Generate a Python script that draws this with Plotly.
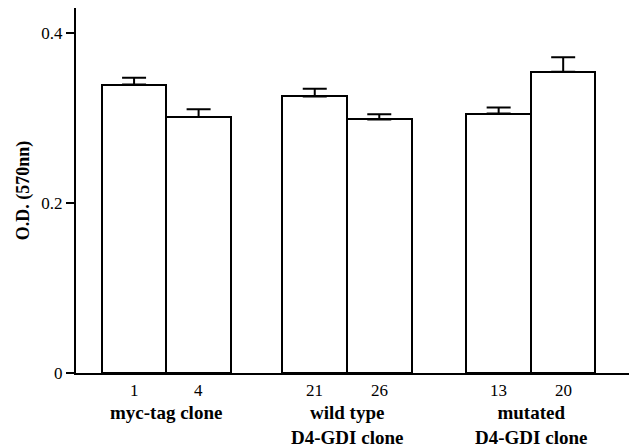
import plotly.graph_objects as go

clones = ["1", "4", "21", "26", "13", "20"]
groups = ["myc-tag clone", "wild type<br>D4-GDI clone", "mutated<br>D4-GDI clone"]
od_values = [0.339, 0.301, 0.325, 0.298, 0.305, 0.354]
od_errors = [0.008, 0.009, 0.009, 0.006, 0.007, 0.017]

group_centers = [1.4, 4.2, 7.05]
xpos = []
for g in group_centers:
    xpos += [g - 0.5, g + 0.5]

serif = "Liberation Serif, Times New Roman, serif"

fig = go.Figure()
fig.add_trace(go.Bar(
    x=xpos, y=od_values, width=1.0,
    marker=dict(color="white", line=dict(color="black", width=2)),
    error_y=dict(type="data", array=od_errors, arrayminus=[0]*6, symmetric=False,
                 color="black", thickness=2, width=12),
    showlegend=False,
))

for x, lab in zip(xpos, clones):
    fig.add_annotation(x=x, y=-0.047, xref="x", yref="paper", text=lab,
                       showarrow=False, yanchor="middle",
                       font=dict(family=serif, size=17, color="black"))

for g, lab in zip(group_centers, groups):
    fig.add_annotation(x=g, y=-0.074, xref="x", yref="paper", text="<b>%s</b>" % lab,
                       showarrow=False, yanchor="top", align="center",
                       font=dict(family=serif, size=19, color="black"))

fig.update_layout(
    width=637, height=448,
    margin=dict(l=68, r=16, t=0, b=83),
    plot_bgcolor="white", paper_bgcolor="white",
    bargap=0,
    xaxis=dict(range=[0, 8.57], showticklabels=False, showgrid=False,
               zeroline=False, showline=True, linecolor="black", linewidth=2,
               ticks=""),
    yaxis=dict(range=[0, 0.429], tickvals=[0, 0.2, 0.4], ticktext=["0", "0.2", "0.4"],
               showgrid=False, zeroline=False, showline=True, linecolor="black",
               linewidth=2, ticks="outside", ticklen=8, tickwidth=2, tickcolor="black",
               tickfont=dict(family=serif, size=17, color="black"),
               title=dict(text="<b>O.D. (570nn)</b>", standoff=7,
                          font=dict(family=serif, size=18, color="black"))),
)

fig.write_html("out.html")
